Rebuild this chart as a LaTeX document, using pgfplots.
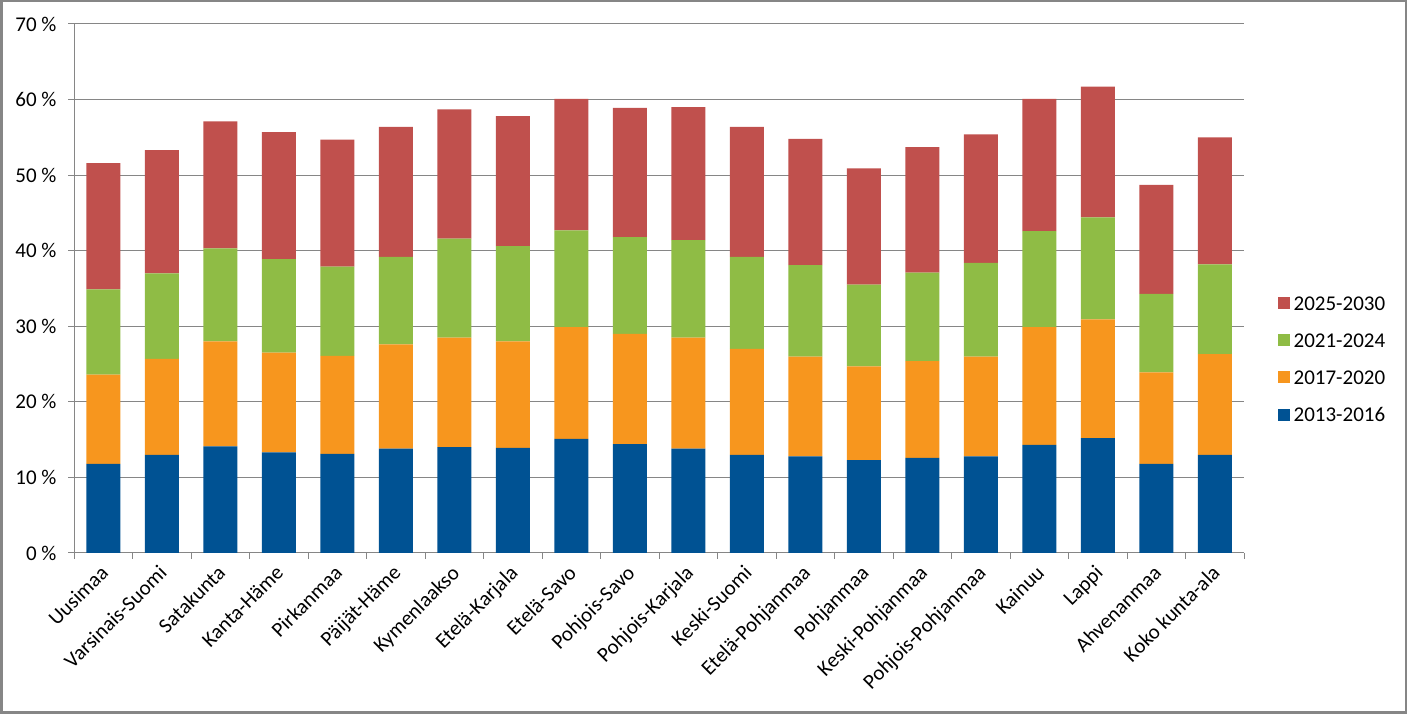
\documentclass[border=0pt]{standalone}
\usepackage{fontspec}
\setmainfont{Carlito}
\usepackage{pgfplots}
\usepackage{pgfplotstable}
\pgfplotsset{compat=1.18}
\definecolor{cBlue}{RGB}{0,82,147}
\definecolor{cOrange}{RGB}{247,150,30}
\definecolor{cGreen}{RGB}{143,188,69}
\definecolor{cRed}{RGB}{192,80,77}
\definecolor{gridgray}{RGB}{134,134,134}
\pgfplotstableread{
x b o g r
0 11.8 11.8 11.3 16.7
1 13.0 12.7 11.3 16.3
2 14.1 13.9 12.3 16.8
3 13.3 13.2 12.4 16.8
4 13.1 13.0 11.8 16.8
5 13.8 13.8 11.6 17.2
6 14.0 14.5 13.1 17.1
7 13.9 14.1 12.6 17.2
8 15.1 14.8 12.8 17.4
9 14.4 14.6 12.8 17.1
10 13.8 14.7 12.9 17.6
11 13.0 14.0 12.2 17.2
12 12.8 13.2 12.1 16.7
13 12.3 12.4 10.8 15.4
14 12.6 12.8 11.7 16.6
15 12.8 13.2 12.4 17.0
16 14.3 15.6 12.7 17.5
17 15.2 15.7 13.5 17.3
18 11.8 12.1 10.4 14.4
19 13.0 13.3 11.9 16.8
}\datatable
\begin{document}
\begin{tikzpicture}
\draw[gridgray, line width=2.5pt] (1.25pt,1.25pt) rectangle (1405.75pt,712.75pt);
\begin{axis}[
  at={(74pt,161pt)}, anchor=south west,
  scale only axis, width=1170pt, height=529pt,
  ybar stacked, bar width=34pt,
  xmin=-0.5, xmax=19.5, ymin=0, ymax=70,
  enlargelimits=false,
  axis x line*=bottom, axis y line*=left,
  axis line style={gridgray, line width=1pt, -},
  tick style={gridgray, line width=1pt},
  tick align=outside, major tick length=6pt,
  ymajorgrids, grid style={gridgray, line width=1pt},
  ytick={0,10,...,70},
  yticklabels={0~\%,10~\%,20~\%,30~\%,40~\%,50~\%,60~\%,70~\%},
  yticklabel style={font=\fontsize{21}{25}\selectfont, xshift=-8pt},
  xtick={-0.5,0.5,...,19.5},
  xticklabels={},
  extra x ticks={0,1,...,19},
  extra x tick labels={Uusimaa,Varsinais-Suomi,Satakunta,Kanta-Häme,Pirkanmaa,Päijät-Häme,Kymenlaakso,Etelä-Karjala,Etelä-Savo,Pohjois-Savo,Pohjois-Karjala,Keski-Suomi,Etelä-Pohjanmaa,Pohjanmaa,Keski-Pohjanmaa,Pohjois-Pohjanmaa,Kainuu,Lappi,Ahvenanmaa,Koko kunta-ala},
  extra x tick style={major tick length=0pt, grid=none},
  xticklabel style={font=\fontsize{21}{25}\selectfont, xshift=-4pt, yshift=-8pt, rotate=45, anchor=north east, inner sep=2pt},
  reverse legend,
  legend image code/.code={\fill[#1] (0pt,-5pt) rectangle (12pt,7pt);},
  legend style={at={(1.026,0.365)}, anchor=west, draw=none, fill=none,
    font=\fontsize{21}{25}\selectfont, row sep=18pt,
    nodes={inner xsep=4pt}},
  legend cell align=left,
]
\addplot[fill=cBlue, draw=none] table[x=x, y=b] {\datatable};
\addplot[fill=cOrange, draw=none] table[x=x, y=o] {\datatable};
\addplot[fill=cGreen, draw=none] table[x=x, y=g] {\datatable};
\addplot[fill=cRed, draw=none] table[x=x, y=r] {\datatable};
\legend{2013-2016,2017-2020,2021-2024,2025-2030}
\end{axis}
\end{tikzpicture}
\end{document}
